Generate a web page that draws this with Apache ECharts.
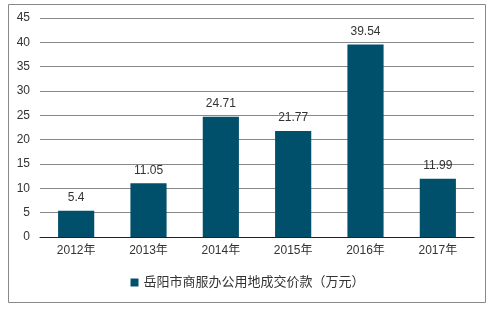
<!DOCTYPE html>
<html><head><meta charset="utf-8">
<script src="https://cdn.jsdelivr.net/npm/echarts@6/dist/echarts.min.js"></script>
<style>html,body{margin:0;padding:0;background:#fff}#c{width:495px;height:309px}</style>
</head><body><div id="c"></div>
<script>
const categories = ['2012年','2013年','2014年','2015年','2016年','2017年'];
const values = [5.4, 11.05, 24.71, 21.77, 39.54, 11.99];
const seriesName = '岳阳市商服办公用地成交价款（万元）';
const yTicks = {min: 0, max: 45, interval: 5};

const chart = echarts.init(document.getElementById('c'), null, {renderer: 'canvas'});
chart.setOption({
  animation: false,
  textStyle: {fontFamily: 'Arial, "Liberation Sans", "Noto Sans CJK SC", sans-serif'},
  graphic: [{type: 'rect', shape: {x: 8.5, y: 4.5, width: 477, height: 298}, style: {fill: 'none', stroke: '#888', lineWidth: 1}, silent: true}],
  grid: {left: 40, right: 21, top: 18, bottom: 72},
  legend: {
    bottom: 15, left: 'center', itemWidth: 8, itemHeight: 8, itemGap: 5, icon: 'rect',
    textStyle: {fontSize: 13, color: '#333'},
    data: [seriesName]
  },
  xAxis: {
    type: 'category', data: categories,
    axisLine: {lineStyle: {color: '#222'}}, axisTick: {show: false},
    axisLabel: {color: '#333', fontSize: 12, margin: 8}
  },
  yAxis: {
    type: 'value', min: yTicks.min, max: yTicks.max, interval: yTicks.interval,
    axisLine: {show: false}, axisTick: {show: false},
    axisLabel: {color: '#333', fontSize: 12, margin: 10},
    splitLine: {lineStyle: {color: '#888', width: 1}}
  },
  series: [{
    name: seriesName, type: 'bar', data: values, barWidth: '50%',
    itemStyle: {color: '#00506B'},
    label: {show: true, position: 'top', color: '#333', fontSize: 12, distance: 7}
  }]
});
</script></body></html>
